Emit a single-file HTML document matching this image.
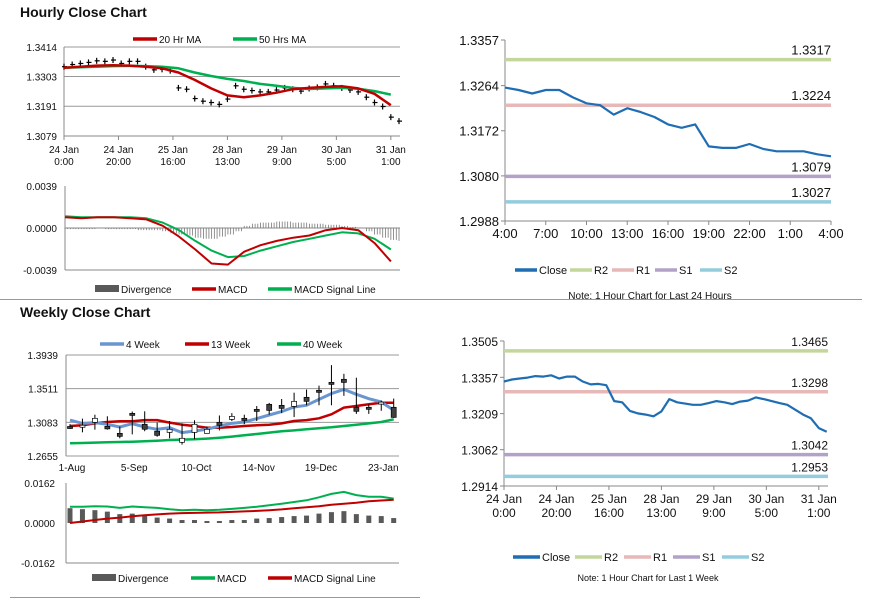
<!DOCTYPE html>
<html><head><meta charset="utf-8">
<style>
body{margin:0;background:#fff;width:873px;height:601px;overflow:hidden;font-family:"Liberation Sans",Arial,sans-serif}
svg{position:absolute;left:0;top:0}
text{font-family:"Liberation Sans",Arial,sans-serif;fill:#111}
</style></head>
<body>
<svg id="s" width="873" height="601"></svg>
<script>
// ===== DATA =====
const hourSteps = [0,3,6,9,12,15,18,21,24,27,30,33,36,39,42,45,48,51,54,57,60,63,66,69,72,75,78,81,84,87,90,93,96,99,102,105,108,111,114,117,120,123];
const weekClose = [1.3340,1.3348,1.3352,1.3356,1.3362,1.3360,1.3365,1.3352,1.3360,1.3360,1.3340,1.3328,1.3330,1.3325,1.3260,1.3255,1.3220,1.3210,1.3205,1.3198,1.3218,1.3268,1.3255,1.3250,1.3245,1.3245,1.3252,1.3260,1.3255,1.3248,1.3258,1.3262,1.3275,1.3268,1.3260,1.3252,1.3245,1.3225,1.3205,1.3190,1.3150,1.3135];
const maSteps = [0,6,12,18,24,30,36,42,48,54,60,66,72,78,84,90,96,102,108,114,120];
const ma20 = [1.3336,1.3340,1.3344,1.3345,1.3344,1.3340,1.3334,1.3318,1.3290,1.3258,1.3232,1.3225,1.3232,1.3242,1.3255,1.3260,1.3264,1.3266,1.3258,1.3238,1.3195];
const ma50 = [1.3336,1.3338,1.3340,1.3342,1.3343,1.3342,1.3340,1.3334,1.3318,1.3305,1.3294,1.3286,1.3275,1.3268,1.3260,1.3256,1.3258,1.3260,1.3257,1.3248,1.3235];
const hMacd = [0.0010,0.0009,0.0010,0.0010,0.0009,0.0008,0.0002,-0.0008,-0.0020,-0.0033,-0.0034,-0.0022,-0.0016,-0.0012,-0.0009,-0.0007,-0.0002,0.0000,-0.0002,-0.0014,-0.0031];
const hSignal = [0.0011,0.0010,0.0010,0.0010,0.0010,0.0009,0.0005,-0.0002,-0.0012,-0.0021,-0.0027,-0.0026,-0.0021,-0.0017,-0.0013,-0.0010,-0.0007,-0.0004,-0.0005,-0.0010,-0.0020];
const hDiv = [-0.0001,-0.0001,-0.0001,-0.0001,0,-0.0001,-0.0001,-0.0001,-0.0001,-0.0002,-0.0002,-0.0002,-0.0003,-0.0005,-0.0006,-0.0007,-0.0009,-0.0010,-0.0010,-0.0008,-0.0006,-0.0003,0.0002,0.0004,0.0005,0.0005,0.0006,0.0006,0.0005,0.0005,0.0004,0.0004,0.0003,0.0003,0.0002,0.0001,0.0000,-0.0003,-0.0006,-0.0009,-0.0011,-0.0012];
const hourTicks = ["24 Jan|0:00","24 Jan|20:00","25 Jan|16:00","28 Jan|13:00","29 Jan|9:00","30 Jan|5:00","31 Jan|1:00"];
const wOpen  = [1.3030,1.3040,1.3083,1.3032,1.2943,1.3197,1.3058,1.2970,1.2956,1.2829,1.2956,1.2943,1.3083,1.3121,1.3134,1.3248,1.3312,1.3299,1.3286,1.3401,1.3490,1.3591,1.3630,1.3274,1.3274,1.3330,1.3274];
const wClose = [1.3020,1.3046,1.3134,1.3000,1.2905,1.3172,1.2995,1.2918,1.2994,1.2880,1.3058,1.2994,1.3045,1.3159,1.3108,1.3235,1.3235,1.3261,1.3350,1.3350,1.3477,1.3566,1.3591,1.3223,1.3261,1.3340,1.3146];
const wHigh  = [1.3060,1.3130,1.3180,1.3160,1.3030,1.3220,1.3223,1.3080,1.3100,1.3070,1.3110,1.3030,1.3170,1.3200,1.3180,1.3290,1.3330,1.3380,1.3460,1.3500,1.3550,1.3810,1.3700,1.3650,1.3310,1.3360,1.3385];
const wLow   = [1.3000,1.2956,1.2990,1.2990,1.2880,1.2930,1.2970,1.2900,1.2880,1.2800,1.2870,1.2960,1.2980,1.3100,1.3060,1.3100,1.3180,1.3200,1.3150,1.3300,1.3300,1.3300,1.3420,1.3190,1.3190,1.3230,1.3140];
const w4  = [1.3112,1.3070,1.3079,1.3058,1.3024,1.3066,1.3024,1.2994,1.3015,1.2952,1.2973,1.2994,1.3036,1.3070,1.3087,1.3130,1.3176,1.3219,1.3278,1.3299,1.3375,1.3448,1.3502,1.3439,1.3384,1.3341,1.3236];
const w13 = [1.3036,1.3045,1.3070,1.3087,1.3096,1.3096,1.3112,1.3112,1.3079,1.3053,1.3036,1.3015,1.3015,1.3024,1.3036,1.3045,1.3053,1.3070,1.3100,1.3112,1.3134,1.3185,1.3270,1.3291,1.3312,1.3333,1.3333];
const w40 = [1.2816,1.2820,1.2825,1.2829,1.2833,1.2837,1.2842,1.2850,1.2859,1.2863,1.2867,1.2876,1.2888,1.2901,1.2918,1.2935,1.2952,1.2969,1.2981,1.2994,1.3007,1.3020,1.3036,1.3053,1.3070,1.3087,1.3121];
const wMacd = [0.0066,0.0066,0.0068,0.0067,0.0061,0.0067,0.0064,0.0061,0.0056,0.0052,0.0054,0.0052,0.0054,0.0057,0.0061,0.0066,0.0072,0.0078,0.0085,0.0092,0.0104,0.0118,0.0126,0.0113,0.0106,0.0106,0.0099];
const wSignal = [0.0000,0.0006,0.0012,0.0018,0.0022,0.0027,0.0031,0.0035,0.0038,0.0040,0.0041,0.0042,0.0043,0.0045,0.0047,0.0049,0.0052,0.0055,0.0060,0.0064,0.0068,0.0074,0.0078,0.0082,0.0088,0.0091,0.0094];
const wDiv = [0.0060,0.0056,0.0052,0.0046,0.0036,0.0038,0.0032,0.0022,0.0018,0.0012,0.0012,0.0008,0.0008,0.0012,0.0012,0.0018,0.0020,0.0024,0.0028,0.0030,0.0038,0.0044,0.0048,0.0036,0.0030,0.0028,0.0020];
const weekTicks = ["1-Aug","5-Sep","10-Oct","14-Nov","19-Dec","23-Jan"];
const dayClose = [1.3260,1.3255,1.3248,1.3255,1.3255,1.3240,1.3228,1.3224,1.3205,1.3218,1.3210,1.3200,1.3185,1.3178,1.3185,1.3140,1.3137,1.3137,1.3145,1.3135,1.3130,1.3130,1.3130,1.3124,1.3120];
const dayTicks = ["4:00","7:00","10:00","13:00","16:00","19:00","22:00","1:00","4:00"];
const dayLevels = [1.3317,1.3224,1.3079,1.3027];
const weekLevels = [1.3465,1.3298,1.3042,1.2953];
const levelNames = ["R2","R1","S1","S2"];
const levelColors = ["#c3d69b","#e6b9b8","#b3a2c7","#93cddd"];

// ===== helpers =====
const S = document.getElementById('s');
const NS = 'http://www.w3.org/2000/svg';
function mk(tag, a){const e=document.createElementNS(NS,tag);for(const k in a)e.setAttribute(k,a[k]);S.appendChild(e);return e;}
function txt(x,y,s,size,anchor,weight){const e=mk('text',{x:x,y:y,'font-size':size||10,'text-anchor':anchor||'start','font-weight':weight||'normal'});e.textContent=s;return e;}
function lin(a,b){return v=>b[0]+(v-a[0])*(b[1]-b[0])/(a[1]-a[0]);}
function poly(xs,ys,color,w){return mk('polyline',{points:xs.map((x,i)=>x.toFixed(1)+','+ys[i].toFixed(1)).join(' '),fill:'none',stroke:color,'stroke-width':w,'stroke-linejoin':'round'});}

let e;
e=txt(20,17,"Hourly Close Chart",14,'start','bold');


e=txt(20,317,"Weekly Close Chart",14,'start','bold');


e=mk('line',{x1:0,y1:299.5,x2:862,y2:299.5,stroke:'#999','stroke-width':1});


e=mk('line',{x1:10,y1:597.5,x2:420,y2:597.5,stroke:'#999','stroke-width':1});



function legend(items,y,size,sw){
  sw=sw||24;
  items.forEach(it=>{
    let l;
    if(it.bar){l=mk('rect',{x:it.x,y:y-5,width:sw,height:7,fill:'#595959'});}
    else{l=mk('line',{x1:it.x,y1:y-1,x2:it.x+sw,y2:y-1,stroke:it.c,'stroke-width':3.5});}
    
    
    const t=txt(it.x+sw+2,y+3,it.t,size||10);
    
    
  });
}

// ===== Panel 1: hourly price =====
{
  const X=lin([0,123],[64,399]);
  const Y=lin([1.3079,1.3414],[136,47]);
  [1.3414,1.3303,1.3191,1.3079].forEach((v,i)=>{
    const g=mk('line',{x1:64,y1:Y(v),x2:400,y2:Y(v),stroke:i==3?'#888':'#999','stroke-width':1});
    
    
    const t=txt(57,Y(v)+4,v.toFixed(4),10,'end');
    
    
  });
  e=mk('line',{x1:64,y1:47,x2:64,y2:136,stroke:'#888'});
  
  
  hourTicks.forEach((s,i)=>{
    const x=X(i*20);
    const tk=mk('line',{x1:x,y1:136,x2:x,y2:140,stroke:'#888'});
    
    
    const p=s.split('|');
    const t1=txt(x,153,p[0],10,'middle');
    
    
    const t2=txt(x,165,p[1],10,'middle');
    
    
  });
  weekClose.forEach((v,i)=>{
    const x=X(hourSteps[i]);
    const b=mk('line',{x1:x,y1:Y(v)-3,x2:x,y2:Y(v)+3,stroke:'#000','stroke-width':1.2});
    
    
    const h=mk('line',{x1:x-2,y1:Y(v),x2:x+3,y2:Y(v),stroke:'#000','stroke-width':1.2});
    
    
  });
  e=poly(maSteps.map(X),ma50.map(Y),'#00b050',2.5);
  
  
  e=poly(maSteps.map(X),ma20.map(Y),'#c00000',2.5);
  
  
  legend([{x:133,c:'#c00000',t:'20 Hr MA'},{x:233,c:'#00b050',t:'50 Hrs MA'}],40);
}
// ===== Panel 2: hourly MACD =====
{
  const X=lin([0,123],[65,399]);
  const Y=lin([-0.0039,0.0039],[270,186]);
  [0.0039,0,-0.0039].forEach(v=>{
    const t=txt(57,Y(v)+4,v.toFixed(4),10,'end');
    
    
  });
  e=mk('line',{x1:65,y1:186,x2:65,y2:270,stroke:'#888'});
  
  
  e=mk('line',{x1:65,y1:Y(0),x2:400,y2:Y(0),stroke:'#888'});
  
  
  e=mk('line',{x1:65,y1:270,x2:400,y2:270,stroke:'#888'});
  
  
  hDiv.forEach((v,i)=>{
    for(let k=0;k<3;k++){
      const x=X(hourSteps[i]+k);
      if(x>400)continue;
      const b=mk('line',{x1:x,y1:Y(0),x2:x,y2:Y(v),stroke:'#777','stroke-width':0.8});
      
      
    }
  });
  e=poly(maSteps.map(X),hSignal.map(Y),'#00b050',2);
  
  
  e=poly(maSteps.map(X),hMacd.map(Y),'#c00000',2);
  
  
  legend([{x:95,bar:1,t:'Divergence'},{x:192,c:'#c00000',t:'MACD'},{x:268,c:'#00b050',t:'MACD Signal Line'}],290);
}
// ===== Panel 3: weekly price =====
{
  const X=i=>70+i*12.45;
  const Y=lin([1.2655,1.3939],[456,355]);
  [1.3939,1.3511,1.3083,1.2655].forEach((v,i)=>{
    const g=mk('line',{x1:66,y1:Y(v),x2:399,y2:Y(v),stroke:'#999'});
    
    
    const t=txt(58,Y(v)+4,v.toFixed(4),10,'end');
    
    
  });
  e=mk('line',{x1:66,y1:355,x2:66,y2:456,stroke:'#888'});
  
  
  weekTicks.forEach((s,i)=>{
    const t=txt(X(i*5)+2,471,s,10,'middle');
    
    
  });
  e=poly(wOpen.map((_,i)=>X(i)),w40.map(Y),'#00b050',2.5);
  
  
  e=poly(wOpen.map((_,i)=>X(i)),w13.map(Y),'#c00000',2.5);
  
  
  e=poly(wOpen.map((_,i)=>X(i)),w4.map(Y),'#6a96d0',3);
  
  
  wOpen.forEach((o,i)=>{
    const x=X(i),c=wClose[i];
    const w=mk('line',{x1:x,y1:Y(wHigh[i]),x2:x,y2:Y(wLow[i]),stroke:'#000','stroke-width':1});
    
    
    const top=Y(Math.max(o,c)),h=Math.max(2,Math.abs(Y(o)-Y(c)));
    const b=mk('rect',{x:x-2.5,y:top,width:5,height:h,fill:c>o?'#fff':'#404040',stroke:'#000','stroke-width':0.7});
    
    
  });
  legend([{x:100,c:'#6a96d0',t:'4 Week'},{x:185,c:'#c00000',t:'13 Week'},{x:277,c:'#00b050',t:'40 Week'}],345);
}
// ===== Panel 4: weekly MACD =====
{
  const X=i=>70+i*12.45;
  const Y=lin([-0.0162,0.0162],[563,483]);
  [0.0162,0,-0.0162].forEach(v=>{
    const t=txt(55,Y(v)+4,v.toFixed(4),10,'end');
    
    
  });
  e=mk('line',{x1:66,y1:483,x2:66,y2:563,stroke:'#888'});
  
  
  e=mk('line',{x1:66,y1:563,x2:399,y2:563,stroke:'#888'});
  
  
  wDiv.forEach((v,i)=>{
    const b=mk('rect',{x:X(i)-2.5,y:Y(v),width:5,height:Y(0)-Y(v),fill:'#595959'});
    
    
  });
  e=poly(wMacd.map((_,i)=>X(i)),wMacd.map(Y),'#00b050',2);
  
  
  e=poly(wSignal.map((_,i)=>X(i)),wSignal.map(Y),'#c00000',2);
  
  
  legend([{x:92,bar:1,t:'Divergence'},{x:191,c:'#00b050',t:'MACD'},{x:268,c:'#c00000',t:'MACD Signal Line'}],579);
}
// ===== Right panels =====
function rightPanel(cfg){
  const Y=lin([cfg.ymin,cfg.ymax],[cfg.y0,cfg.y1]);
  const X=lin([0,cfg.n],[cfg.x0,cfg.x1]);
  cfg.ticks.forEach(v=>{
    const t=txt(cfg.x0-6,Y(v)+5,v.toFixed(4),cfg.fs,'end');
    
    
    const tk=mk('line',{x1:cfg.x0-4,y1:Y(v),x2:cfg.x0,y2:Y(v),stroke:'#888'});
    
    
  });
  e=mk('line',{x1:cfg.x0,y1:cfg.y1,x2:cfg.x0,y2:cfg.y0,stroke:'#888'});
  
  
  e=mk('line',{x1:cfg.x0,y1:cfg.y0,x2:cfg.x1,y2:cfg.y0,stroke:'#888'});
  
  
  cfg.xlabels.forEach((s,i)=>{
    const x=X(i*cfg.step);
    const tk=mk('line',{x1:x,y1:cfg.y0,x2:x,y2:cfg.y0+4,stroke:'#888'});
    
    
    s.split('|').forEach((p,j)=>{
      const t=txt(x,cfg.y0+17+j*14,p,cfg.fs,'middle');
      
      
    });
  });
  cfg.levels.forEach((v,i)=>{
    const l=mk('line',{x1:cfg.x0,y1:Y(v),x2:cfg.x1,y2:Y(v),stroke:levelColors[i],'stroke-width':3.5});
    
    
    const t=txt(cfg.x1,Y(v)-5,v.toFixed(4),cfg.fs,'end');
    
    
  });
  e=poly(cfg.xs.map(X),cfg.data.map(Y),'#1f6db3',2.2);
  
  
  const items=[{x:cfg.lpos[0],c:'#1f6db3',t:'Close'}];
  levelNames.forEach((n,i)=>items.push({x:cfg.lpos[i+1],c:levelColors[i],t:n}));
  legend(items,cfg.ly,cfg.lfs,cfg.sw);
  const nt=txt(cfg.nx,cfg.ny,cfg.note,cfg.fs-3,'middle');
  
  
}
rightPanel({ymin:1.2988,ymax:1.3357,y0:221,y1:40,x0:505,x1:831,n:24,step:3,fs:13,lfs:11,sw:22,
  ticks:[1.3357,1.3264,1.3172,1.3080,1.2988],xlabels:dayTicks,levels:dayLevels,
  xs:dayClose.map((_,i)=>i),data:dayClose,lpos:[515,570,612,655,700],ly:271,nx:650,ny:299,
  note:"Note: 1 Hour Chart for Last 24 Hours"});
rightPanel({ymin:1.2914,ymax:1.3505,y0:486,y1:341,x0:504,x1:828,n:123.5,step:20,fs:12,lfs:11,sw:27,
  ticks:[1.3505,1.3357,1.3209,1.3062,1.2914],xlabels:hourTicks,levels:weekLevels,
  xs:hourSteps,data:weekClose,lpos:[513,575,624,673,722],ly:558,nx:648,ny:581,
  note:"Note: 1 Hour Chart for  Last 1 Week"});
</script>
</body></html>
